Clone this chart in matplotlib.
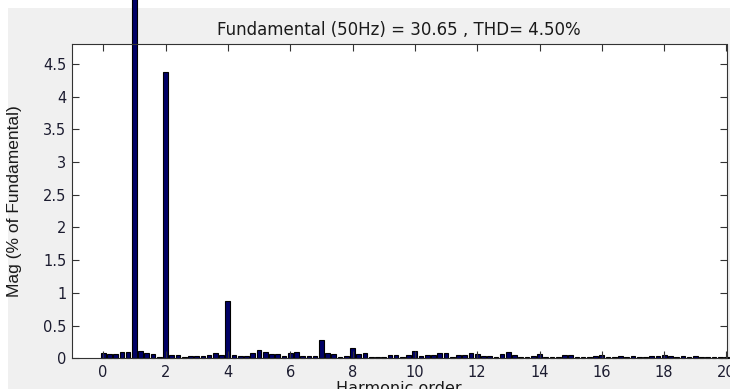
"""FFT analysis bar chart: harmonic spectrum in % of fundamental (MATLAB powergui style)."""
import numpy as np
import matplotlib
matplotlib.use("Agg")
import matplotlib.pyplot as plt
from matplotlib.patches import Rectangle

# magnitude (% of fundamental) at orders 0, 0.2, 0.4, ... 20 (10 Hz steps)
mag_rows = [
    [0.075, 0.06, 0.065, 0.10, 0.095],   # 0.x
    [100.0, 0.11, 0.085, 0.07, 0.025],   # 1.x  (fundamental)
    [4.37, 0.045, 0.045, 0.025, 0.04],   # 2.x
    [0.04, 0.035, 0.05, 0.075, 0.05],    # 3.x
    [0.87, 0.055, 0.035, 0.04, 0.075],   # 4.x
    [0.125, 0.09, 0.06, 0.06, 0.035],    # 5.x
    [0.08, 0.09, 0.04, 0.035, 0.035],    # 6.x
    [0.28, 0.075, 0.06, 0.025, 0.04],    # 7.x
    [0.15, 0.06, 0.075, 0.025, 0.025],   # 8.x
    [0.025, 0.045, 0.045, 0.025, 0.05],  # 9.x
    [0.11, 0.035, 0.05, 0.05, 0.075],    # 10.x
    [0.085, 0.025, 0.05, 0.055, 0.075],  # 11.x
    [0.065, 0.035, 0.035, 0.015, 0.06],  # 12.x
    [0.10, 0.05, 0.02, 0.025, 0.04],     # 13.x
    [0.06, 0.025, 0.025, 0.02, 0.045],   # 14.x
    [0.05, 0.02, 0.025, 0.02, 0.03],     # 15.x
    [0.05, 0.025, 0.02, 0.03, 0.025],    # 16.x
    [0.04, 0.025, 0.02, 0.03, 0.035],    # 17.x
    [0.055, 0.04, 0.025, 0.03, 0.025],   # 18.x
    [0.035, 0.02, 0.02, 0.02, 0.025],    # 19.x
    [0.02],                              # 20.0
]
mag = [v for row in mag_rows for v in row]
order = np.round(np.arange(len(mag)) * 0.2, 1)

xticks = list(range(0, 21, 2))
yticks = [0, 0.5, 1, 1.5, 2, 2.5, 3, 3.5, 4, 4.5]
ytick_labels = ["0", "0.5", "1", "1.5", "2", "2.5", "3", "3.5", "4", "4.5"]
title = "Fundamental (50Hz) = 30.65 , THD= 4.50%"

plt.rcParams["font.family"] = ["DejaVu Sans"]

fig = plt.figure(figsize=(7.3, 3.89), dpi=100, facecolor="white")
# MATLAB grey window, screenshot leaves a white strip top/left
fig.patches.append(Rectangle((8 / 730, 0), 1, (389 - 8) / 389,
                             transform=fig.transFigure, facecolor="#f0f0f0",
                             edgecolor="none", zorder=-10))

ax = fig.add_axes([72 / 730, 1 - 358.3 / 389, (726.5 - 72) / 730, (358.3 - 44.3) / 389])
ax.set_facecolor("white")

bars = ax.bar(order, mag, width=0.15, color="#000066", edgecolor="black", linewidth=0.8)
for b in bars:
    b.set_clip_on(False)

ax.set_xlim(-1, 20)
ax.set_ylim(0, 4.8)
ax.set_xticks(xticks)
ax.set_yticks(yticks)
ax.set_yticklabels(ytick_labels)
ax.tick_params(direction="in", top=True, right=True, length=5, width=0.8,
               labelsize=10.5, colors="#333333", labelcolor="#1c1c30")
ax.tick_params(axis="x", pad=5)
ax.tick_params(axis="y", pad=4)
for s in ax.spines.values():
    s.set_color("#333333")
    s.set_linewidth(0.8)

ax.set_title(title, fontsize=12, color="#1a1a1a", pad=7)
ax.set_xlabel("Harmonic order", fontsize=11.5, color="#1a1a1a", labelpad=0.5)
ax.set_ylabel("Mag (% of Fundamental)", fontsize=12.5, color="#1a1a1a",
              family=["Liberation Sans Narrow", "Liberation Sans", "DejaVu Sans"])
ax.yaxis.set_label_coords(-0.076, 0.5)

fig.savefig("out.png", dpi=100)
